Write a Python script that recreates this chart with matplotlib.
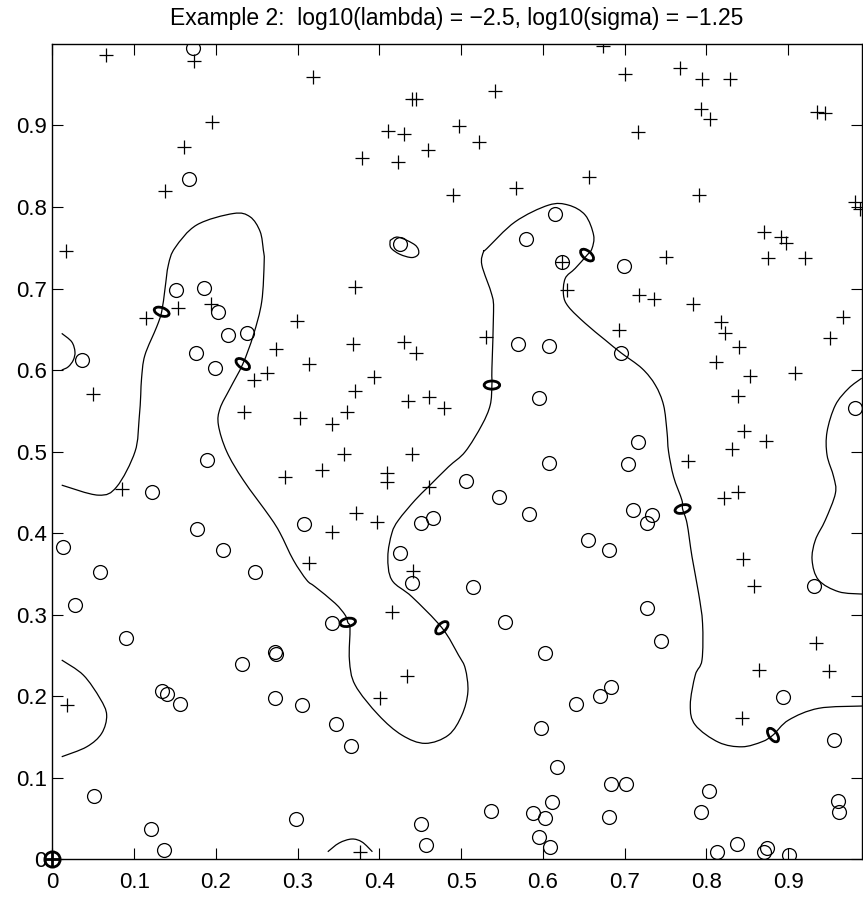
import matplotlib
matplotlib.use("Agg")
import matplotlib.pyplot as plt
from matplotlib.patches import Ellipse, PathPatch
from matplotlib.path import Path

plt.rcParams['font.family'] = ['Liberation Sans', 'DejaVu Sans']

# class +1 points
plus_x = [0.0655, 0.173, 0.319, 0.195, 0.161, 0.1377, 0.4397, 0.4446, 0.5416, 0.410,
          0.430, 0.4976, 0.459, 0.5224, 0.3784, 0.4225, 0.4906, 0.567, 0.6567, 0.674,
          0.7007, 0.768, 0.7946, 0.8293, 0.7934, 0.8048, 0.7158, 0.9354, 0.9447, 0.7913,
          0.982, 0.988, 0.870, 0.891, 0.8978, 0.0165, 0.154, 0.1936, 0.1144, 0.299,
          0.2736, 0.3144, 0.2621, 0.2466, 0.2348, 0.303, 0.050, 0.370, 0.3674, 0.4306,
          0.4446, 0.3939, 0.370, 0.360, 0.3417, 0.4347, 0.4608, 0.4792, 0.530, 0.6233,
          0.6294, 0.751, 0.8754, 0.921, 0.717, 0.7354, 0.783, 0.8182, 0.8223, 0.8394,
          0.8121, 0.8537, 0.9088, 0.8386, 0.9667, 0.9517, 0.6934, 0.8464, 0.8733, 0.8313,
          0.0847, 0.2846, 0.3143, 0.357, 0.4397, 0.3295, 0.409, 0.409, 0.4608, 0.3715,
          0.3968, 0.3417, 0.4416, 0.4151, 0.777, 0.8386, 0.8211, 0.8448, 0.8586, 0.9345,
          0.0174, 0.4335, 0.4009, 0.3764, 0.8648, 0.9504, 0.8436]
plus_y = [0.987, 0.979, 0.960, 0.904, 0.873, 0.819, 0.933, 0.932, 0.9425, 0.893,
          0.890, 0.8996, 0.870, 0.880, 0.8596, 0.8555, 0.8146, 0.823, 0.837, 0.998,
          0.9626, 0.971, 0.9568, 0.9565, 0.920, 0.9078, 0.892, 0.9168, 0.9155, 0.8146,
          0.806, 0.797, 0.769, 0.7627, 0.7554, 0.746, 0.6757, 0.681, 0.664, 0.6605,
          0.6254, 0.608, 0.597, 0.5877, 0.549, 0.5415, 0.5706, 0.702, 0.6315, 0.6347,
          0.6205, 0.591, 0.5746, 0.549, 0.5334, 0.562, 0.5673, 0.5538, 0.641, 0.7328,
          0.698, 0.739, 0.737, 0.7377, 0.692, 0.687, 0.6806, 0.6592, 0.645, 0.6286,
          0.610, 0.593, 0.596, 0.568, 0.6654, 0.6396, 0.649, 0.525, 0.513, 0.503,
          0.4537, 0.469, 0.3637, 0.497, 0.497, 0.4774, 0.4733, 0.4623, 0.457, 0.425,
          0.4132, 0.4018, 0.354, 0.3036, 0.4888, 0.4508, 0.4434, 0.3679, 0.3351, 0.2649,
          0.1892, 0.2251, 0.1974, 0.0086, 0.2321, 0.2309, 0.1729]

# class -1 points
circ_x = [0.1716, 0.167, 0.615, 0.5796, 0.425, 0.151, 0.1858, 0.203, 0.2144, 0.2385,
          0.1752, 0.1989, 0.0357, 0.569, 0.6069, 0.5946, 0.6233, 0.6995, 0.6955, 0.7163,
          0.9823, 0.1887, 0.1222, 0.1765, 0.3078, 0.0132, 0.209, 0.0581, 0.2479, 0.0275,
          0.0896, 0.2723, 0.2736, 0.232, 0.5061, 0.6069, 0.5465, 0.5824, 0.655, 0.451,
          0.4661, 0.4253, 0.4397, 0.515, 0.3417, 0.5539, 0.602, 0.7036, 0.7097, 0.7334,
          0.7273, 0.6812, 0.9312, 0.7273, 0.7448, 0.1344, 0.1398, 0.156, 0.2723, 0.305,
          0.0508, 0.1202, 0.1365, 0.2977, 0.3466, 0.3654, 0.6408, 0.5975, 0.6167, 0.5367,
          0.611, 0.5873, 0.6028, 0.5958, 0.6089, 0.451, 0.4568, 0.6701, 0.6836, 0.8937,
          0.9557, 0.6832, 0.702, 0.6803, 0.8027, 0.7938, 0.961, 0.9618, 0.8374, 0.813,
          0.8742, 0.870, 0.9015]
circ_y = [0.9945, 0.834, 0.791, 0.7607, 0.754, 0.698, 0.701, 0.6715, 0.643, 0.646,
          0.6205, 0.603, 0.6123, 0.632, 0.6298, 0.5653, 0.7328, 0.7275, 0.6212, 0.5113,
          0.553, 0.4896, 0.4508, 0.405, 0.4112, 0.3833, 0.3793, 0.352, 0.352, 0.3118,
          0.271, 0.2546, 0.2518, 0.240, 0.4643, 0.4856, 0.4447, 0.423, 0.3915, 0.412,
          0.418, 0.3752, 0.339, 0.3335, 0.2894, 0.2914, 0.2534, 0.4847, 0.4283, 0.4222,
          0.412, 0.3793, 0.3351, 0.3085, 0.2677, 0.2068, 0.2023, 0.1904, 0.1982, 0.1892,
          0.0776, 0.0372, 0.011, 0.049, 0.1655, 0.1393, 0.19, 0.1606, 0.1128, 0.0592,
          0.0706, 0.0572, 0.0503, 0.0277, 0.0147, 0.0429, 0.0175, 0.2003, 0.2117, 0.1987,
          0.1463, 0.092, 0.092, 0.0522, 0.0838, 0.0584, 0.0715, 0.0584, 0.0184, 0.0093,
          0.0142, 0.0093, 0.0053]

# decision boundary pieces
main_x = [0.0113, 0.0561, 0.0786, 0.101, 0.106, 0.108, 0.109, 0.113, 0.1275, 0.1336,
          0.1377, 0.1418, 0.150, 0.1765, 0.2213, 0.2417, 0.254, 0.258, 0.259, 0.256,
          0.2458, 0.2328, 0.2173, 0.205, 0.203, 0.2132, 0.2335, 0.266, 0.2785, 0.2947,
          0.311, 0.3213, 0.3458, 0.358, 0.3613, 0.364, 0.3633, 0.3703, 0.3988, 0.4274,
          0.456, 0.4845, 0.5009, 0.5082, 0.505, 0.4967, 0.4764, 0.4397, 0.4152, 0.4103,
          0.4152, 0.4233, 0.4437, 0.46, 0.4845, 0.505, 0.5253, 0.5355, 0.5376, 0.5376,
          0.5396, 0.5376, 0.5253, 0.5273, 0.5314, 0.566, 0.6069, 0.6313, 0.6518, 0.662,
          0.66, 0.654, 0.6395, 0.6273, 0.6252, 0.6313, 0.6518, 0.6763, 0.6955, 0.7212,
          0.7375, 0.7476, 0.7518, 0.7537, 0.7599, 0.770, 0.7709, 0.7763, 0.7824, 0.7905,
          0.7953, 0.7946, 0.7864, 0.7803, 0.7864, 0.815, 0.8436, 0.868, 0.8815, 0.9006,
          0.9373, 0.9905]
main_y = [0.4589, 0.4466, 0.4569, 0.50, 0.54, 0.57, 0.59, 0.618, 0.653, 0.6715,
          0.70, 0.729, 0.750, 0.778, 0.792, 0.788, 0.770, 0.747, 0.733, 0.684,
          0.643, 0.6074, 0.5776, 0.553, 0.5326, 0.50, 0.465, 0.420, 0.40, 0.367,
          0.3425, 0.3343, 0.314, 0.2996, 0.2906, 0.2833, 0.2444, 0.2137, 0.177, 0.1524,
          0.1422, 0.1524, 0.177, 0.2055, 0.234, 0.2505, 0.284, 0.322, 0.3425, 0.371,
          0.40, 0.416, 0.4406, 0.457, 0.4814, 0.50, 0.5326, 0.557, 0.5816, 0.602,
          0.6715, 0.692, 0.7288, 0.745, 0.749, 0.7818, 0.8023, 0.8023, 0.790, 0.7655,
          0.749, 0.741, 0.7247, 0.7124, 0.692, 0.6776, 0.6573, 0.6368, 0.6212, 0.602,
          0.5816, 0.557, 0.5243, 0.50, 0.469, 0.4406, 0.4296, 0.412, 0.371, 0.326,
          0.2894, 0.2444, 0.226, 0.1892, 0.1647, 0.1435, 0.138, 0.1442, 0.1524, 0.1708,
          0.1852, 0.188]

right_x = [0.99, 0.974, 0.9578, 0.9476, 0.9476, 0.9557, 0.9578, 0.9455, 0.9333, 0.9293,
           0.9373, 0.9618, 0.9905]
right_y = [0.59, 0.5776, 0.557, 0.5243, 0.4958, 0.469, 0.4488, 0.416, 0.3915, 0.367,
           0.3425, 0.3282, 0.3253]

topleft_x = [0.0113, 0.0235, 0.0275, 0.0255, 0.0193, 0.0113]
topleft_y = [0.645, 0.6347, 0.6224, 0.6123, 0.604, 0.600]

botleft_x = [0.0113, 0.0377, 0.0581, 0.0663, 0.0602, 0.0419, 0.0113]
botleft_y = [0.2444, 0.226, 0.1974, 0.177, 0.1545, 0.138, 0.1258]

bottom_x = [0.3368, 0.3507, 0.3662, 0.3788, 0.3914]
bottom_y = [0.0093, 0.020, 0.0249, 0.0212, 0.0093]

loop_x = [0.413, 0.423, 0.4437, 0.448, 0.440, 0.425, 0.414, 0.413]
loop_y = [0.759, 0.763, 0.7533, 0.743, 0.738, 0.742, 0.750, 0.759]

# points sitting on the boundary (drawn bold)
elbow_x = [0.1336, 0.2328, 0.3613, 0.4764, 0.5376, 0.654, 0.7709, 0.8815]
elbow_y = [0.6715, 0.6074, 0.2906, 0.284, 0.5816, 0.741, 0.4296, 0.1524]
elbow_ang = [-20, -35, 10, 45, 0, -40, 15, -55]

ticks = [0, 0.1, 0.2, 0.3, 0.4, 0.5, 0.6, 0.7, 0.8, 0.9]
tick_labels = ['0', '0.1', '0.2', '0.3', '0.4', '0.5', '0.6', '0.7', '0.8', '0.9']


def smooth_path(xs, ys):
    # Catmull-Rom through the read points, drawn as cubic Bezier segments
    pts = list(zip(xs, ys))
    verts = [pts[0]]
    codes = [Path.MOVETO]
    n = len(pts)
    for i in range(n - 1):
        p0 = pts[max(i - 1, 0)]
        p1 = pts[i]
        p2 = pts[i + 1]
        p3 = pts[min(i + 2, n - 1)]
        c1 = (p1[0] + (p2[0] - p0[0]) / 6, p1[1] + (p2[1] - p0[1]) / 6)
        c2 = (p2[0] - (p3[0] - p1[0]) / 6, p2[1] - (p3[1] - p1[1]) / 6)
        verts += [c1, c2, p2]
        codes += [Path.CURVE4] * 3
    return Path(verts, codes)


fig = plt.figure(figsize=(8.63, 8.97), dpi=100)
ax = fig.add_axes([0.0608, 0.042, 0.9377, 0.9086])

lw = 0.9
for cx, cy in [(main_x, main_y), (right_x, right_y), (topleft_x, topleft_y),
               (botleft_x, botleft_y), (bottom_x, bottom_y), (loop_x, loop_y)]:
    ax.add_patch(PathPatch(smooth_path(cx, cy), fill=False, edgecolor='black',
                           linewidth=lw))

ax.plot(plus_x, plus_y, '+', color='black', markersize=10, markeredgewidth=lw)
ax.plot(circ_x, circ_y, 'o', markerfacecolor='none', markeredgecolor='black',
        markersize=10, markeredgewidth=lw)

for ex, ey, ea in zip(elbow_x, elbow_y, elbow_ang):
    ax.add_patch(Ellipse((ex, ey), 0.019, 0.010, angle=ea, fill=False,
                         edgecolor='black', linewidth=2))

# point at the origin
ax.plot([0], [0], 'o', markerfacecolor='none', markeredgecolor='black',
        markersize=11, markeredgewidth=2, clip_on=False, zorder=5)
ax.plot([0], [0], '+', color='black', markersize=11, markeredgewidth=2,
        clip_on=False, zorder=5)

ax.set_xlim(0, 0.99)
ax.set_ylim(0, 0.9995)
ax.set_xticks(ticks)
ax.set_xticklabels(tick_labels)
ax.set_yticks(ticks)
ax.set_yticklabels(tick_labels)
ax.tick_params(direction='in', length=8, width=0.8, top=True, right=True,
               labelsize=16)
ax.tick_params(axis='x', pad=9)
ax.tick_params(axis='y', pad=4)
for s in ax.spines.values():
    s.set_linewidth(1.0)

ax.set_title('Example 2:  log10(lambda) = \u22122.5, log10(sigma) = \u22121.25',
             fontsize=16.5, pad=14)

fig.savefig('out.png', dpi=100)
